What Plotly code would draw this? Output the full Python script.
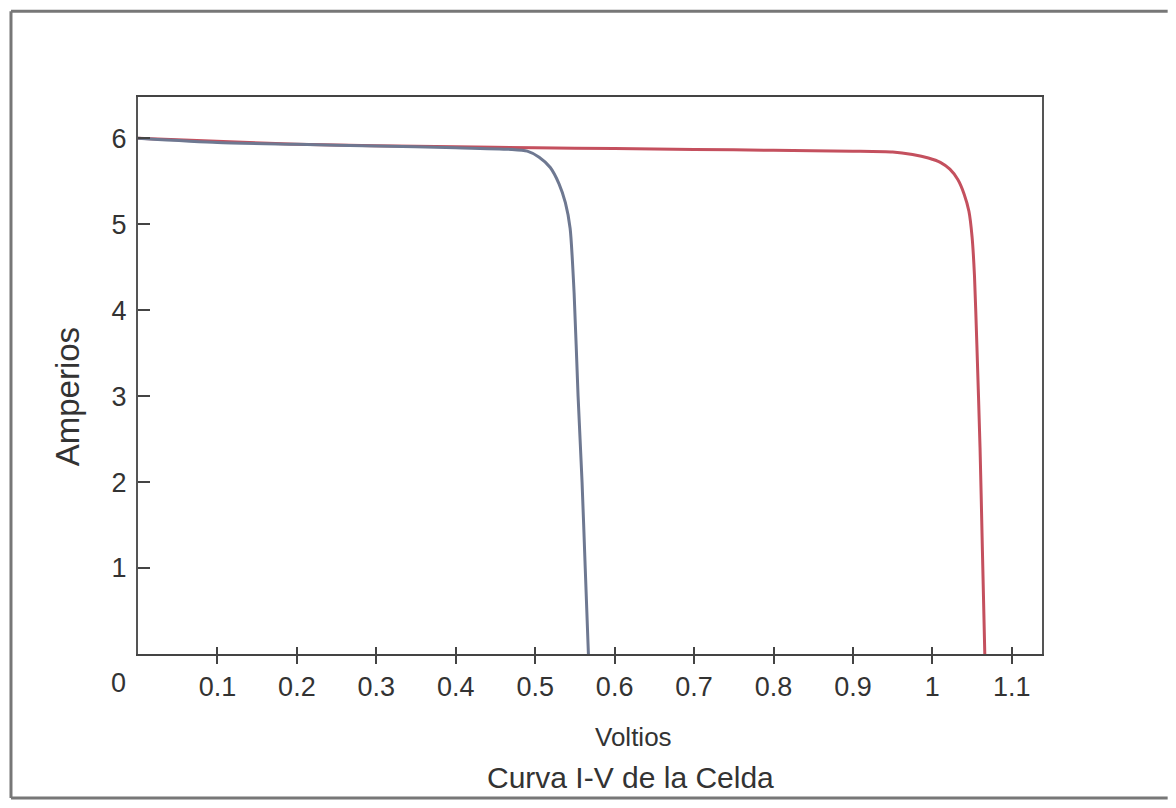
import plotly.graph_objects as go

# Data (Volts, Amperes)
v_cell1 = [0.0, 0.1, 0.2, 0.3, 0.4, 0.47, 0.49, 0.505, 0.519, 0.530, 0.538, 0.544, 0.549, 0.554, 0.559, 0.563, 0.567]
i_cell1 = [6.0, 5.95, 5.93, 5.91, 5.89, 5.87, 5.85, 5.78, 5.66, 5.47, 5.25, 4.95, 4.2, 3.0, 2.0, 1.0, 0.0]

v_cell2 = [0.0, 0.2, 0.4, 0.5, 0.6, 0.7, 0.8, 0.9, 0.95, 0.975, 0.995, 1.01, 1.022, 1.032, 1.04, 1.046, 1.05, 1.053, 1.056, 1.06, 1.063, 1.066]
i_cell2 = [6.0, 5.93, 5.9, 5.89, 5.88, 5.87, 5.86, 5.85, 5.84, 5.81, 5.77, 5.72, 5.64, 5.52, 5.35, 5.15, 4.85, 4.4, 3.6, 2.4, 1.2, 0.0]

x_ticks = [0.1, 0.2, 0.3, 0.4, 0.5, 0.6, 0.7, 0.8, 0.9, 1.0, 1.1]
x_tick_text = ["0.1", "0.2", "0.3", "0.4", "0.5", "0.6", "0.7", "0.8", "0.9", "1", "1.1"]
y_ticks = [1, 2, 3, 4, 5, 6]

FONT = "Liberation Sans Narrow, Arial Narrow, Liberation Sans, Arial, sans-serif"
TXT = "#333333"
FRAME = dict(color="#777777", width=3)

fig = go.Figure()
fig.add_trace(go.Scatter(x=v_cell2, y=i_cell2, mode="lines", line=dict(color="#c4505e", width=3, shape="spline", smoothing=0.6), showlegend=False))
fig.add_trace(go.Scatter(x=v_cell1, y=i_cell1, mode="lines", line=dict(color="#6e7891", width=3, shape="spline", smoothing=0.6), showlegend=False))
# invisible trace on the overlay axis so it is drawn
fig.add_trace(go.Scatter(x=[None], y=[None], xaxis="x2", yaxis="y", showlegend=False))

fig.update_layout(
    width=1160, height=792,
    margin=dict(l=130, r=126, t=89, b=146),
    paper_bgcolor="white", plot_bgcolor="white",
    font=dict(family=FONT, color=TXT),
    xaxis=dict(range=[0, 1.138], tickvals=x_ticks, ticktext=x_tick_text, ticks="outside", ticklen=8, tickwidth=2,
               tickcolor="#444", showline=True, linecolor="#444", linewidth=2, mirror=True, showgrid=False,
               zeroline=False, tickfont=dict(size=27, family=FONT, color=TXT), ticklabelstandoff=0),
    xaxis2=dict(range=[0, 1.138], tickvals=x_ticks, ticks="inside", ticklen=7, tickwidth=2, tickcolor="#444",
                showticklabels=False, overlaying="x", side="bottom", showgrid=False, zeroline=False, showline=False),
    yaxis=dict(range=[0, 6.48], tickvals=y_ticks, ticks="inside", ticklen=12, tickwidth=2, tickcolor="#444",
               showline=True, linecolor="#555", linewidth=2, mirror=True, showgrid=False, zeroline=False,
               tickfont=dict(size=27, family=FONT, color=TXT), ticklabelstandoff=4),
    annotations=[
        dict(text="0", x=-0.022, y=-0.052, xref="paper", yref="paper", showarrow=False,
             font=dict(size=27, family=FONT, color=TXT), xanchor="center", yanchor="middle"),
        dict(text="Amperios", x=-0.0785, y=0.461, xref="paper", yref="paper", showarrow=False, textangle=-90,
             font=dict(size=33, family=FONT, color=TXT), xanchor="center", yanchor="middle"),
        dict(text="Voltios", x=0.5476, y=-0.149, xref="paper", yref="paper", showarrow=False,
             font=dict(size=26, family=FONT, color=TXT), xanchor="center", yanchor="middle"),
        dict(text="Curva I-V de la Celda", x=0.545, y=-0.221, xref="paper", yref="paper", showarrow=False,
             font=dict(size=30, family=FONT, color=TXT), xanchor="center", yanchor="middle"),
    ],
    shapes=[
        dict(type="line", xref="paper", yref="paper", x0=-0.1405, x1=-0.1405, y0=-0.2585, y1=1.154, line=FRAME),
        dict(type="line", xref="paper", yref="paper", x0=-0.1405, x1=1.139, y0=1.154, y1=1.154, line=FRAME),
        dict(type="line", xref="paper", yref="paper", x0=-0.1405, x1=1.139, y0=-0.2585, y1=-0.2585, line=FRAME),
    ],
)

fig.write_html("out.html")
